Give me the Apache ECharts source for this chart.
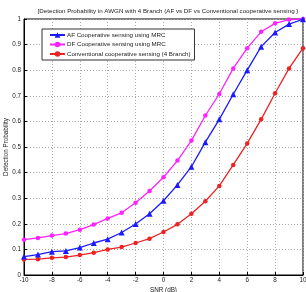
<!DOCTYPE html>
<html>
<head>
<meta charset="utf-8">
<script src="https://cdn.jsdelivr.net/npm/echarts@6/dist/echarts.min.js"></script>
<style>
  html, body { margin: 0; padding: 0; background: #fff; }
  #chart { width: 306px; height: 292px; }
</style>
</head>
<body>
<div id="chart"></div>
<script>
// SNR values (dB)
var snr = [-10, -9, -8, -7, -6, -5, -4, -3, -2, -1, 0, 1, 2, 3, 4, 5, 6, 7, 8, 9, 10]

// detection probability per scheme
var afMrc = [0.072, 0.080, 0.091, 0.094, 0.107, 0.125, 0.140, 0.166, 0.199, 0.239, 0.290, 0.352, 0.423, 0.519, 0.608, 0.706, 0.800, 0.892, 0.947, 0.980, 0.999]
var dfMrc = [0.138, 0.145, 0.154, 0.162, 0.177, 0.197, 0.221, 0.243, 0.282, 0.328, 0.382, 0.447, 0.525, 0.623, 0.707, 0.807, 0.886, 0.950, 0.983, 0.998, 1.0]
var conventional = [0.061, 0.062, 0.067, 0.070, 0.078, 0.087, 0.100, 0.109, 0.125, 0.142, 0.168, 0.198, 0.239, 0.288, 0.348, 0.430, 0.514, 0.608, 0.710, 0.807, 0.886]

var seriesNames = [
  'AF Cooperative sensing using MRC',
  'DF Cooperative sensing using MRC',
  'Conventional cooperative sensing (4 Branch)'
]

function pairs(ys) {
  return snr.map(function (x, i) { return [x, ys[i]] })
}

var chartBox = echarts.init(document.getElementById('chart'))
var font = 'Liberation Sans, Arial, sans-serif'
var dotted = { color: '#aaa', width: 1, type: [1, 2] }

var option = {
  backgroundColor: '#fff',
  animation: false,
  textStyle: { fontFamily: font },
  title: {
    text: '[Detection Probability in AWGN with 4 Branch (AF vs DF vs Conventional cooperative sensing )',
    left: 163,
    top: 3,
    textAlign: 'center',
    textStyle: { fontSize: 6.2, fontWeight: 'normal', color: '#222', fontFamily: font }
  },
  grid: {
    left: 24, right: 3, top: 19, bottom: 17,
    outerBoundsMode: 'none',
    show: true, borderColor: '#000', borderWidth: 1
  },
  legend: {
    orient: 'vertical',
    left: 42,
    top: 29,
    padding: [3, 4, 3, 7],
    itemGap: 3.5,
    itemWidth: 15,
    itemHeight: 7,
    backgroundColor: '#fff',
    borderColor: '#333',
    borderWidth: 1,
    borderRadius: 0,
    textStyle: { fontSize: 6.2, color: '#222', fontFamily: font, padding: [0, 0, 0, -3] },
    data: seriesNames
  },
  xAxis: {
    type: 'value',
    min: -10,
    max: 10,
    interval: 2,
    name: 'SNR (dB)',
    nameLocation: 'middle',
    nameGap: 12,
    nameMoveOverlap: false,
    nameTextStyle: { fontSize: 6.3, color: '#222' },
    axisLine: { onZero: false, lineStyle: { color: '#000' } },
    axisTick: { inside: true, length: 3, lineStyle: { color: '#000' } },
    axisLabel: { fontSize: 6.3, color: '#222', margin: 2 },
    splitLine: { show: true, lineStyle: dotted }
  },
  yAxis: {
    type: 'value',
    min: 0,
    max: 1,
    interval: 0.1,
    name: 'Detection Probability',
    nameLocation: 'middle',
    nameGap: 15,
    nameMoveOverlap: false,
    nameTextStyle: { fontSize: 6.3, color: '#222' },
    axisLine: { show: true, onZero: false, lineStyle: { color: '#000' } },
    axisTick: { show: true, inside: true, length: 3, lineStyle: { color: '#000' } },
    axisLabel: {
      fontSize: 6.3, color: '#222', margin: 3,
      formatter: function (v) { return String(Math.round(v * 10) / 10) }
    },
    splitLine: { show: true, lineStyle: dotted }
  },
  series: [
    {
      name: seriesNames[0],
      type: 'line',
      data: pairs(afMrc),
      color: '#1a1aff',
      symbol: 'triangle',
      symbolSize: 6,
      lineStyle: { width: 1.3 },
      z: 3
    },
    {
      name: seriesNames[1],
      type: 'line',
      data: pairs(dfMrc),
      color: '#ff22ff',
      symbol: 'circle',
      symbolSize: 4.5,
      lineStyle: { width: 1.3 },
      z: 2
    },
    {
      name: seriesNames[2],
      type: 'line',
      data: pairs(conventional),
      color: '#ee2222',
      symbol: 'circle',
      symbolSize: 4.5,
      lineStyle: { width: 1.3 },
      z: 1
    }
  ]
}

chartBox.setOption(option, true)
</script>
</body>
</html>
